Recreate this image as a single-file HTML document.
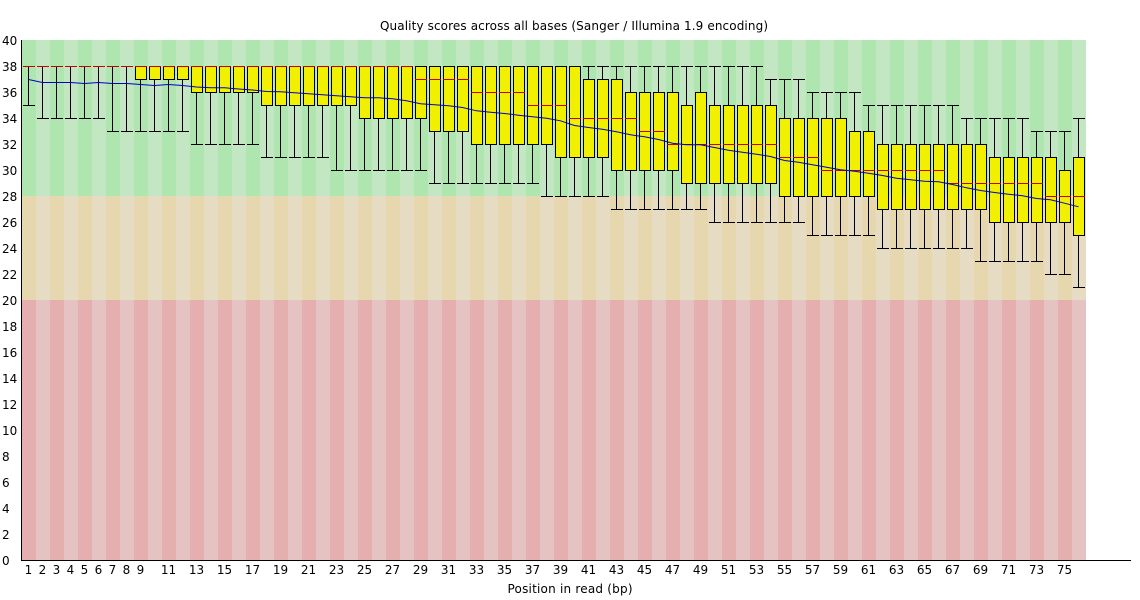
<!DOCTYPE html>
<html><head><meta charset="utf-8"><style>
html,body{margin:0;padding:0;background:#fff;}
svg{display:block;}
text{font-family:"DejaVu Sans","Liberation Sans",sans-serif;font-size:12px;fill:#000;}
</style></head><body>
<svg width="1140" height="600" viewBox="0 0 1140 600" xmlns="http://www.w3.org/2000/svg">
<defs>
<pattern id="pg" x="22" y="0" width="28" height="600" patternUnits="userSpaceOnUse"><rect x="0" y="0" width="14" height="600" fill="rgb(175,230,175)"/><rect x="14" y="0" width="14" height="600" fill="rgb(195,230,195)"/></pattern>
<pattern id="po" x="22" y="0" width="28" height="600" patternUnits="userSpaceOnUse"><rect x="0" y="0" width="14" height="600" fill="rgb(230,215,175)"/><rect x="14" y="0" width="14" height="600" fill="rgb(230,220,195)"/></pattern>
<pattern id="pr" x="22" y="0" width="28" height="600" patternUnits="userSpaceOnUse"><rect x="0" y="0" width="14" height="600" fill="rgb(230,175,175)"/><rect x="14" y="0" width="14" height="600" fill="rgb(230,195,195)"/></pattern>
</defs>
<rect x="0" y="0" width="1140" height="600" fill="#fff"/>
<rect x="22" y="40" width="1064" height="156" fill="url(#pg)"/>
<rect x="22" y="196" width="1064" height="104" fill="url(#po)"/>
<rect x="22" y="300" width="1064" height="260" fill="url(#pr)"/>
<text x="574" y="30" text-anchor="middle" textLength="388">Quality scores across all bases (Sanger / Illumina 1.9 encoding)</text>
<text x="570" y="593" text-anchor="middle" textLength="125">Position in read (bp)</text>
<g>
<text x="2" y="565">0</text><text x="2" y="539">2</text><text x="2" y="513">4</text><text x="2" y="487">6</text><text x="2" y="461">8</text>
<text x="2" y="435">10</text><text x="2" y="409">12</text><text x="2" y="383">14</text><text x="2" y="357">16</text><text x="2" y="331">18</text>
<text x="2" y="305">20</text><text x="2" y="279">22</text><text x="2" y="253">24</text><text x="2" y="227">26</text><text x="2" y="201">28</text>
<text x="2" y="175">30</text><text x="2" y="149">32</text><text x="2" y="123">34</text><text x="2" y="97">36</text><text x="2" y="71">38</text><text x="2" y="45">40</text>
</g>
<g text-anchor="middle">
<text x="28.5" y="574">1</text><text x="42.5" y="574">2</text><text x="56.5" y="574">3</text><text x="70.5" y="574">4</text><text x="84.5" y="574">5</text><text x="98.5" y="574">6</text><text x="112.5" y="574">7</text><text x="126.5" y="574">8</text><text x="140.5" y="574">9</text>
<text x="168.5" y="574">11</text><text x="196.5" y="574">13</text><text x="224.5" y="574">15</text><text x="252.5" y="574">17</text><text x="280.5" y="574">19</text><text x="308.5" y="574">21</text><text x="336.5" y="574">23</text><text x="364.5" y="574">25</text><text x="392.5" y="574">27</text><text x="420.5" y="574">29</text>
<text x="448.5" y="574">31</text><text x="476.5" y="574">33</text><text x="504.5" y="574">35</text><text x="532.5" y="574">37</text><text x="560.5" y="574">39</text><text x="588.5" y="574">41</text><text x="616.5" y="574">43</text><text x="644.5" y="574">45</text><text x="672.5" y="574">47</text><text x="700.5" y="574">49</text>
<text x="728.5" y="574">51</text><text x="756.5" y="574">53</text><text x="784.5" y="574">55</text><text x="812.5" y="574">57</text><text x="840.5" y="574">59</text><text x="868.5" y="574">61</text><text x="896.5" y="574">63</text><text x="924.5" y="574">65</text><text x="952.5" y="574">67</text><text x="980.5" y="574">69</text>
<text x="1008.5" y="574">71</text><text x="1036.5" y="574">73</text><text x="1064.5" y="574">75</text>
</g>
<path fill="none" stroke="#000" stroke-width="1" d="M28.5 66V105M23 66.5h12M23 105.5h12 M42.5 66V118M37 66.5h12M37 118.5h12 M56.5 66V118M51 66.5h12M51 118.5h12 M70.5 66V118M65 66.5h12M65 118.5h12 M84.5 66V118M79 66.5h12M79 118.5h12 M98.5 66V118M93 66.5h12M93 118.5h12 M112.5 66V131M107 66.5h12M107 131.5h12 M126.5 66V131M121 66.5h12M121 131.5h12 M140.5 66V131M135 66.5h12M135 131.5h12 M154.5 66V131M149 66.5h12M149 131.5h12 M168.5 66V131M163 66.5h12M163 131.5h12 M182.5 66V131M177 66.5h12M177 131.5h12 M196.5 66V144M191 66.5h12M191 144.5h12 M210.5 66V144M205 66.5h12M205 144.5h12 M224.5 66V144M219 66.5h12M219 144.5h12 M238.5 66V144M233 66.5h12M233 144.5h12 M252.5 66V144M247 66.5h12M247 144.5h12 M266.5 66V157M261 66.5h12M261 157.5h12 M280.5 66V157M275 66.5h12M275 157.5h12 M294.5 66V157M289 66.5h12M289 157.5h12 M308.5 66V157M303 66.5h12M303 157.5h12 M322.5 66V157M317 66.5h12M317 157.5h12 M336.5 66V170M331 66.5h12M331 170.5h12 M350.5 66V170M345 66.5h12M345 170.5h12 M364.5 66V170M359 66.5h12M359 170.5h12 M378.5 66V170M373 66.5h12M373 170.5h12 M392.5 66V170M387 66.5h12M387 170.5h12 M406.5 66V170M401 66.5h12M401 170.5h12 M420.5 66V170M415 66.5h12M415 170.5h12 M434.5 66V183M429 66.5h12M429 183.5h12 M448.5 66V183M443 66.5h12M443 183.5h12 M462.5 66V183M457 66.5h12M457 183.5h12 M476.5 66V183M471 66.5h12M471 183.5h12 M490.5 66V183M485 66.5h12M485 183.5h12 M504.5 66V183M499 66.5h12M499 183.5h12 M518.5 66V183M513 66.5h12M513 183.5h12 M532.5 66V183M527 66.5h12M527 183.5h12 M546.5 66V196M541 66.5h12M541 196.5h12 M560.5 66V196M555 66.5h12M555 196.5h12 M574.5 66V196M569 66.5h12M569 196.5h12 M588.5 66V196M583 66.5h12M583 196.5h12 M602.5 66V196M597 66.5h12M597 196.5h12 M616.5 66V209M611 66.5h12M611 209.5h12 M630.5 66V209M625 66.5h12M625 209.5h12 M644.5 66V209M639 66.5h12M639 209.5h12 M658.5 66V209M653 66.5h12M653 209.5h12 M672.5 66V209M667 66.5h12M667 209.5h12 M686.5 66V209M681 66.5h12M681 209.5h12 M700.5 66V209M695 66.5h12M695 209.5h12 M714.5 66V222M709 66.5h12M709 222.5h12 M728.5 66V222M723 66.5h12M723 222.5h12 M742.5 66V222M737 66.5h12M737 222.5h12 M756.5 66V222M751 66.5h12M751 222.5h12 M770.5 79V222M765 79.5h12M765 222.5h12 M784.5 79V222M779 79.5h12M779 222.5h12 M798.5 79V222M793 79.5h12M793 222.5h12 M812.5 92V235M807 92.5h12M807 235.5h12 M826.5 92V235M821 92.5h12M821 235.5h12 M840.5 92V235M835 92.5h12M835 235.5h12 M854.5 92V235M849 92.5h12M849 235.5h12 M868.5 105V235M863 105.5h12M863 235.5h12 M882.5 105V248M877 105.5h12M877 248.5h12 M896.5 105V248M891 105.5h12M891 248.5h12 M910.5 105V248M905 105.5h12M905 248.5h12 M924.5 105V248M919 105.5h12M919 248.5h12 M938.5 105V248M933 105.5h12M933 248.5h12 M952.5 105V248M947 105.5h12M947 248.5h12 M966.5 118V248M961 118.5h12M961 248.5h12 M980.5 118V261M975 118.5h12M975 261.5h12 M994.5 118V261M989 118.5h12M989 261.5h12 M1008.5 118V261M1003 118.5h12M1003 261.5h12 M1022.5 118V261M1017 118.5h12M1017 261.5h12 M1036.5 131V261M1031 131.5h12M1031 261.5h12 M1050.5 131V274M1045 131.5h12M1045 274.5h12 M1064.5 131V274M1059 131.5h12M1059 274.5h12 M1078.5 118V287M1073 118.5h12M1073 287.5h12"/>
<g fill="rgb(240,240,0)" stroke="#000" stroke-width="1">
<rect x="135.5" y="66.5" width="11" height="13"/><rect x="149.5" y="66.5" width="11" height="13"/><rect x="163.5" y="66.5" width="11" height="13"/><rect x="177.5" y="66.5" width="11" height="13"/>
<rect x="191.5" y="66.5" width="11" height="26"/><rect x="205.5" y="66.5" width="11" height="26"/><rect x="219.5" y="66.5" width="11" height="26"/><rect x="233.5" y="66.5" width="11" height="26"/><rect x="247.5" y="66.5" width="11" height="26"/>
<rect x="261.5" y="66.5" width="11" height="39"/><rect x="275.5" y="66.5" width="11" height="39"/><rect x="289.5" y="66.5" width="11" height="39"/><rect x="303.5" y="66.5" width="11" height="39"/><rect x="317.5" y="66.5" width="11" height="39"/><rect x="331.5" y="66.5" width="11" height="39"/><rect x="345.5" y="66.5" width="11" height="39"/>
<rect x="359.5" y="66.5" width="11" height="52"/><rect x="373.5" y="66.5" width="11" height="52"/><rect x="387.5" y="66.5" width="11" height="52"/><rect x="401.5" y="66.5" width="11" height="52"/><rect x="415.5" y="66.5" width="11" height="52"/>
<rect x="429.5" y="66.5" width="11" height="65"/><rect x="443.5" y="66.5" width="11" height="65"/><rect x="457.5" y="66.5" width="11" height="65"/>
<rect x="471.5" y="66.5" width="11" height="78"/><rect x="485.5" y="66.5" width="11" height="78"/><rect x="499.5" y="66.5" width="11" height="78"/><rect x="513.5" y="66.5" width="11" height="78"/><rect x="527.5" y="66.5" width="11" height="78"/><rect x="541.5" y="66.5" width="11" height="78"/>
<rect x="555.5" y="66.5" width="11" height="91"/><rect x="569.5" y="66.5" width="11" height="91"/>
<rect x="583.5" y="79.5" width="11" height="78"/><rect x="597.5" y="79.5" width="11" height="78"/>
<rect x="611.5" y="79.5" width="11" height="91"/>
<rect x="625.5" y="92.5" width="11" height="78"/><rect x="639.5" y="92.5" width="11" height="78"/><rect x="653.5" y="92.5" width="11" height="78"/><rect x="667.5" y="92.5" width="11" height="78"/>
<rect x="681.5" y="105.5" width="11" height="78"/>
<rect x="695.5" y="92.5" width="11" height="91"/>
<rect x="709.5" y="105.5" width="11" height="78"/><rect x="723.5" y="105.5" width="11" height="78"/><rect x="737.5" y="105.5" width="11" height="78"/><rect x="751.5" y="105.5" width="11" height="78"/><rect x="765.5" y="105.5" width="11" height="78"/>
<rect x="779.5" y="118.5" width="11" height="78"/><rect x="793.5" y="118.5" width="11" height="78"/><rect x="807.5" y="118.5" width="11" height="78"/><rect x="821.5" y="118.5" width="11" height="78"/><rect x="835.5" y="118.5" width="11" height="78"/>
<rect x="849.5" y="131.5" width="11" height="65"/><rect x="863.5" y="131.5" width="11" height="65"/>
<rect x="877.5" y="144.5" width="11" height="65"/><rect x="891.5" y="144.5" width="11" height="65"/><rect x="905.5" y="144.5" width="11" height="65"/><rect x="919.5" y="144.5" width="11" height="65"/><rect x="933.5" y="144.5" width="11" height="65"/><rect x="947.5" y="144.5" width="11" height="65"/><rect x="961.5" y="144.5" width="11" height="65"/><rect x="975.5" y="144.5" width="11" height="65"/>
<rect x="989.5" y="157.5" width="11" height="65"/><rect x="1003.5" y="157.5" width="11" height="65"/><rect x="1017.5" y="157.5" width="11" height="65"/><rect x="1031.5" y="157.5" width="11" height="65"/><rect x="1045.5" y="157.5" width="11" height="65"/>
<rect x="1059.5" y="170.5" width="11" height="52"/>
<rect x="1073.5" y="157.5" width="11" height="78"/>
</g>
<path fill="none" stroke="rgb(200,0,0)" stroke-width="1" d="M23 66.5h12M37 66.5h12M51 66.5h12M65 66.5h12M79 66.5h12M93 66.5h12M107 66.5h12M121 66.5h12M135 66.5h12M149 66.5h12M163 66.5h12M177 66.5h12M191 66.5h12M205 66.5h12M219 66.5h12M233 66.5h12M247 66.5h12M261 66.5h12M275 66.5h12M289 66.5h12M303 66.5h12M317 66.5h12M331 66.5h12M345 66.5h12M359 66.5h12M373 66.5h12M387 66.5h12M401 66.5h12 M415 79.5h12M429 79.5h12M443 79.5h12M457 79.5h12 M471 92.5h12M485 92.5h12M499 92.5h12M513 92.5h12 M527 105.5h12M541 105.5h12M555 105.5h12 M569 118.5h12M583 118.5h12M597 118.5h12M611 118.5h12M625 118.5h12 M639 131.5h12M653 131.5h12 M667 144.5h12M681 144.5h12M695 144.5h12M709 144.5h12M723 144.5h12M737 144.5h12M751 144.5h12M765 144.5h12 M779 157.5h12M793 157.5h12M807 157.5h12 M821 170.5h12M835 170.5h12M849 170.5h12M863 170.5h12M877 170.5h12M891 170.5h12M905 170.5h12M919 170.5h12M933 170.5h12 M947 183.5h12M961 183.5h12M975 183.5h12M989 183.5h12M1003 183.5h12M1017 183.5h12M1031 183.5h12 M1045 196.5h12M1059 196.5h12M1073 196.5h12"/>
<polyline fill="none" stroke="rgb(0,0,200)" stroke-width="1" points="28.5,79.5 42.5,82.5 56.5,82.5 70.5,82.5 84.5,83.5 98.5,82.5 112.5,83.5 126.5,83.5 140.5,84.5 154.5,85.5 168.5,84.5 182.5,85.5 196.5,87 210.5,87.8 224.5,87.8 238.5,89 252.5,90 266.5,91.5 280.5,91.8 294.5,92.8 308.5,93.8 322.5,94.8 336.5,95.8 350.5,96.8 364.5,97.8 378.5,97.8 392.5,98.8 406.5,100.8 420.5,103.8 434.5,104.8 448.5,105.8 462.5,107.5 476.5,110.8 490.5,112.2 504.5,113.5 518.5,115.2 532.5,116.8 546.5,118.2 560.5,120.8 574.5,125.5 588.5,127.5 602.5,129.2 616.5,131.8 630.5,134.8 644.5,136.8 658.5,139.5 672.5,143.2 686.5,144.8 700.5,144.8 714.5,147.5 728.5,150.2 742.5,152.2 756.5,154.2 770.5,156.5 784.5,160.5 798.5,162.2 812.5,164.7 826.5,167.2 840.5,169.8 854.5,171.2 868.5,173.2 882.5,175.5 896.5,178.2 910.5,179.8 924.5,181.2 938.5,181.8 952.5,184.5 966.5,187.8 980.5,190.5 994.5,192.5 1008.5,194.2 1022.5,195.8 1036.5,198.5 1050.5,199.8 1064.5,203.2 1078.5,206.8"/>
<path fill="none" stroke="#000" stroke-width="1" d="M21.5 40V561M21 560.5H1131"/>
</svg>
</body></html>
